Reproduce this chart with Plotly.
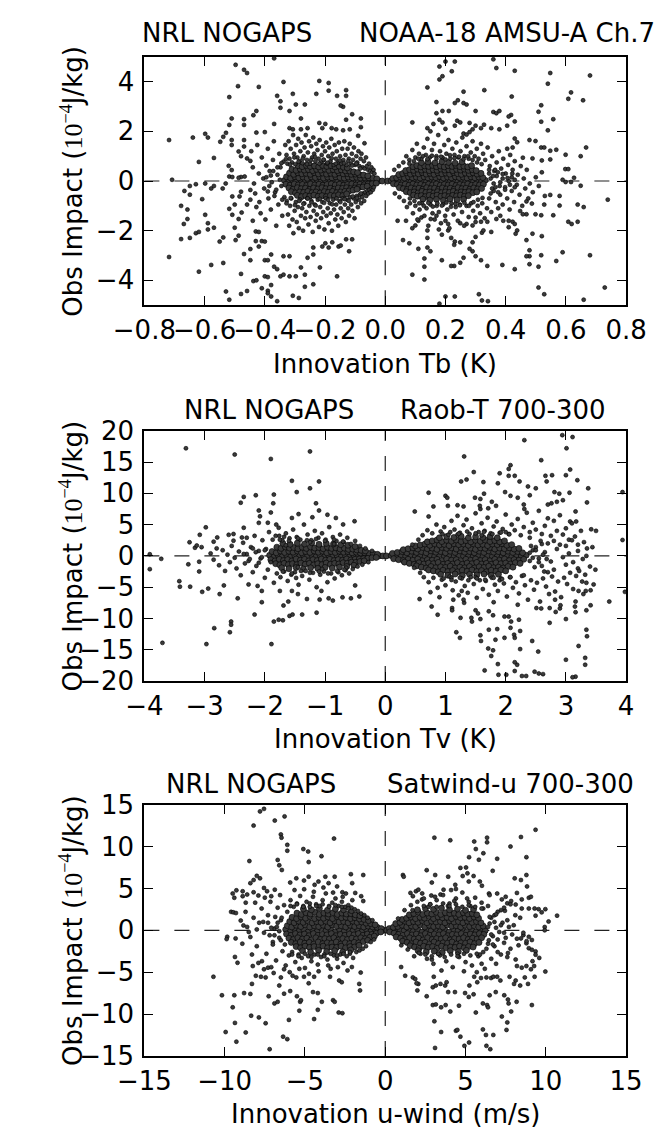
import plotly.graph_objects as go

FIG_W, FIG_H = 672, 1141
FONT = "DejaVu Sans"

# ---------------- NOAA-18 AMSU-A Ch.7 : (innovation Tb [K], impact [1e-4 J/kg]) ----------------
tb_sparse = [
    (-.718,1.65),(-.708,.05),(-.718,-3.06),(-.639,1.75),(-.598,1.9),(-.589,1.75),(-.619,.77),(-.569,.93),
    (-.678,-1.0),(-.657,-1.15),(-.667,-.4),(-.649,-.2),(-.649,-.55),(-.669,-1.73),(-.657,-1.53),(-.678,-2.34),
    (-.649,-2.29),(-.629,-2.1),(-.619,-2.05),(-.598,-1.36),(-.589,-1.7),(-.589,-1.95),(-.569,-1.88),(-.578,-3.38),
    (-.619,-3.65),(-.608,-.73),(-.629,-.13),(-.598,-.1),(-.578,-.3),(-.569,-.2),(-.55,-2.44),(-.538,-2.27),
    (-.538,-3.3),(-.548,1.58),(-.538,1.78),(-.529,1.94),(-.518,2.26),(-.51,2.52),(-.518,3.38),(-.497,4.68),
    (-.489,3.82),(-.469,4.48),(-.459,4.35),(-.51,1.65),(-.51,1.45),(-.52,.61),(-.51,.44),(-.53,-.1),(-.54,-.3),
    (-.518,.18),(-.508,.16),(-.508,-.62),(-.5,-.95),(-.518,-1.12),(-.508,-1.36),(-.487,-1.53),(-.477,-1.27),
    (-.5,-1.88),(-.487,-2.2),(-.497,-2.38),(-.529,-4.45),(-.518,-4.78),(-.479,-4.55),(-.459,-4.43),(-.479,-3.74),
    (-.469,-2.94),(-.448,-2.74),(-.448,-3.19),(-.469,2.49),(-.469,2.26),(-.438,2.65),(-.428,2.82),(-.42,3.79),
    (-.428,1.95),(-.487,1.19),(-.479,1.0),(-.469,1.65),(-.469,1.39),(-.459,.91),(-.448,.81),(-.479,.16),
    (-.487,.13),(-.467,.18),(-.479,-.43),(-.484,-.62),(-.448,-.36),(-.448,-.75),(-.459,-.95),(-.44,-1.6),
    (-.43,-2.03),(-.42,-2.05),(-.43,-2.42),(-.42,-2.64),(-.41,-2.42),(-.4,-2.44),(-.438,-4.03),(-.428,-4.0),
    (-.41,-4.32),(-.39,-4.42),(-.39,-4.52),(-.379,-4.65),(-.359,-4.84),(-.379,-4.19),(-.4,-3.84),(-.39,-3.87),
    (-.4,-3.19),(-.39,-3.19),(-.379,-2.96),(-.369,-3.45),(-.359,-3.55),(-.348,-3.84),(-.338,-3.77),(-.318,-3.84),
    (-.297,-3.84),(-.307,-4.62),(-.287,-4.71),(-.338,-3.03),(-.318,-3.03),(-.28,-3.48),(-.267,-3.77),(-.267,-4.26),
    (-.239,-4.16),(-.239,-2.96),(-.239,-2.68),(-.258,-3.09),(-.217,-3.48),(-.209,-2.64),(-.199,-2.51),(-.188,-2.68),
    (-.176,-2.47),(-.16,-3.84),(-.155,-2.64),(-.148,-2.6),(-.12,-2.83),(-.13,-2.35),(-.11,-2.35),(-.369,4.94),
    (-.338,3.99),(-.359,3.43),(-.348,3.21),(-.348,2.95),(-.318,2.82),(-.307,3.51),(-.297,3.08),(-.267,3.08),
    (-.318,2.13),(-.307,2.08),(-.28,2.52),(-.28,2.08),(-.258,2.13),(-.229,3.51),(-.219,4.03),(-.188,3.95),
    (-.188,3.64),(-.16,3.43),(-.13,3.66),(-.13,3.43),(-.14,2.99),(-.148,3.04),(-.11,2.69),(-.13,2.47),
    (-.081,2.52),(-.081,2.17),(-.219,2.34),(-.199,2.3),(-.209,2.13),(-.178,2.13),(-.163,2.08),(-.14,2.04),
    (-.118,2.08),(-.09,1.82),(-.069,1.52),(-.369,2.3),(-.4,1.97),
    (.18,4.61),(.2,4.81),(.231,4.81),(.359,4.9),(.18,4.09),(.19,4.22),(.221,4.42),(.369,4.55),(.43,4.44),
    (.548,4.35),(.68,4.25),(.14,3.77),(.26,3.6),(.329,3.66),(.54,3.92),(.518,3.05),(.617,3.57),(.608,3.31),
    (.657,3.25),(.42,3.4),(.17,3.18),(.231,3.14),(.241,3.25),(.26,3.14),(.27,3.08),(.19,2.82),(.211,2.82),
    (.17,2.73),(.3,2.82),(.359,2.78),(.369,2.73),(.379,2.82),(.418,2.66),(.41,2.6),(.43,2.4),(.509,2.79),
    (.518,2.39),(.558,2.49),(.54,2.04),(.09,2.36),(.18,2.47),(.19,2.36),(.239,2.43),(.249,2.36),(.28,2.34),
    (.3,2.23),(.328,2.27),(.379,2.08),(.405,2.23),(.14,2.13),(.15,2.0),(.16,2.3),(.2,2.1),(.231,2.23),
    (.26,1.91),(.27,1.87),(.28,1.97),(.29,2.08),(.318,2.13),(.352,2.13),(.43,1.71),(.438,1.56),(.423,1.35),
    (.405,1.3),(.479,1.65),(.499,1.61),(.518,1.35),(.528,1.35),(.548,1.22),(.568,1.26),(.599,1.06),(.649,1.0),
    (.667,1.35),(.457,.94),(.489,.91),(.52,.83),(.548,.87),(.598,.48),(.608,.48),(.627,.13),(.589,.05),
    (.599,-.04),(.617,-.04),(.649,-.19),(.739,-.75),(.639,-.95),(.659,-1.05),(.608,-1.64),(.619,-1.73),
    (.639,-1.64),(.579,-.6),(.548,-.56),(.528,-.95),(.579,-.99),(.558,-1.38),(.518,-1.38),(.499,-1.34),
    (.487,-.91),(.469,-.82),(.469,-1.34),(.448,-1.21),(.457,-1.34),(.469,-2.38),(.489,-2.12),(.52,-2.22),
    (.479,-2.79),(.479,-3.03),(.469,-3.03),(.518,-2.99),(.589,-2.87),(.568,-3.22),(.479,-3.35),(.509,-3.45),
    (.43,-3.55),(.68,-2.99),(.509,-4.29),(.528,-4.56),(.729,-4.29),(.659,-4.78),(.41,-1.6),(.423,-1.64),
    (.43,-1.73),(.438,-1.99),(.433,-2.12),(.41,-1.86),(.392,-1.6),(.382,-1.4),(.369,-1.53),(.389,-3.38),
    (.339,-3.42),(.318,-3.19),(.3,-3.03),(.29,-2.83),(.28,-2.73),(.26,-3.09),(.249,-3.29),(.229,-3.42),
    (.219,-3.42),(.188,-3.19),(.13,-3.12),(.13,-3.45),(.13,-3.97),(.09,-3.77),(.2,-4.65),(.231,-4.65),
    (.311,-4.56),(.321,-4.81),(.341,-4.84),(.18,-4.94),(.059,-2.38),(.08,-2.51),(.11,-2.73),(.14,-2.68),
    (.15,-2.83),(.178,-1.95),(.188,-2.16),(.209,-1.99),(.219,-2.29),(.231,-2.44),(.249,-2.47),(.229,-2.57),
    (.14,-1.99),(.14,-2.29),(.29,-2.47),(.3,-2.25),(.321,-2.08),(.326,-1.99),(.249,-1.7),(.27,-1.73),
    (.29,-1.79),(.3,-1.47),(.318,-1.64),(.339,-1.64),(.352,-2.05),(.2,-1.6),(.209,-1.73),(.041,-1.6),
    (.069,-1.6),(.1,-1.79),(.09,-1.9),(.11,-1.6),(.12,-1.47),(.151,-1.53),(.17,-1.4),
]
tb_band = [
    (-.445,1.2),(-.44,.55),(-.436,-.1),(-.432,-.5),(-.428,-1.05),(-.425,1.45),(-.42,.3),(-.418,-.85),(-.414,-1.3),
    (-.41,.95),(-.405,.1),(-.402,-.3),(-.398,-1.55),(-.395,.62),(-.39,1.3),(-.388,-.7),(-.384,.4),(-.38,-1.15),
    (-.377,-.05),(-.373,.85),(-.37,1.6),(-.366,-.45),(-.362,-1.8),(-.358,.25),(-.355,-.95),(-.352,1.1),(-.348,.55),
    (-.345,-.2),(-.342,-1.4),(-.338,.78),(-.335,-.65),(-.332,1.45),
    (-.328,1.05),(-.325,.7),(-.321,1.6),(-.318,.9),(-.314,1.3),(-.31,.75),(-.306,1.85),(-.303,1.1),(-.299,.68),
    (-.296,1.45),(-.292,.95),(-.289,1.7),(-.285,.8),(-.282,1.2),(-.278,1.55),(-.275,.72),(-.271,1.0),(-.268,1.35),
    (-.264,1.85),(-.26,.85),(-.257,1.15),(-.253,1.6),(-.25,.7),(-.246,1.4),(-.243,.95),(-.239,1.75),(-.236,1.1),
    (-.232,.8),(-.229,1.5),(-.225,1.25),(-.221,.9),(-.218,1.65),(-.214,.75),(-.211,1.05),(-.207,1.4),(-.204,.85),
    (-.2,1.2),(-.196,1.55),(-.193,.7),(-.189,1.0),(-.186,1.35),(-.182,.8),(-.179,1.7),(-.175,1.1),(-.171,.65),
    (-.168,1.45),(-.164,.9),(-.161,1.2),(-.157,.75),(-.154,1.55),(-.15,1.0),(-.146,.7),(-.143,1.3),(-.139,.85),
    (-.136,1.6),(-.132,1.05),(-.129,.65),(-.125,1.3),(-.121,.9),(-.118,1.5),(-.114,.7),(-.111,1.1),(-.107,.85),
    (-.104,1.35),(-.1,.65),(-.096,1.0),(-.093,.75),(-.089,1.2),(-.086,.6),(-.082,.9),(-.079,1.1),(-.075,.55),
    (-.071,.8),(-.068,.5),(-.064,.95),(-.061,.6),(-.057,.45),(-.054,.7),(-.05,.4),(-.046,.55),(-.043,.35),
    (-.039,.45),(-.036,.3),
    (-.327,-.8),(-.323,-1.35),(-.319,-1.8),(-.316,-1.0),(-.312,-.7),(-.308,-1.55),(-.305,-2.1),(-.301,-1.2),
    (-.297,-.85),(-.294,-1.65),(-.29,-1.05),(-.287,-1.9),(-.283,-.75),(-.28,-1.4),(-.276,-1.1),(-.273,-2.0),
    (-.269,-.9),(-.266,-1.5),(-.262,-1.25),(-.259,-.7),(-.255,-1.75),(-.252,-1.0),(-.248,-1.45),(-.245,-.8),
    (-.241,-2.05),(-.238,-1.2),(-.234,-.95),(-.231,-1.6),(-.227,-1.35),(-.224,-.75),(-.22,-1.85),(-.216,-1.05),
    (-.213,-1.5),(-.209,-.85),(-.206,-1.25),(-.202,-1.95),(-.198,-.7),(-.195,-1.4),(-.191,-1.1),(-.188,-1.7),
    (-.184,-.9),(-.181,-1.3),(-.177,-2.0),(-.173,-.75),(-.17,-1.15),(-.166,-1.55),(-.163,-.95),(-.159,-1.35),
    (-.156,-1.8),(-.152,-.8),(-.148,-1.1),(-.145,-1.5),(-.141,-.7),(-.138,-1.25),(-.134,-.95),(-.131,-1.65),
    (-.127,-.75),(-.123,-1.1),(-.12,-1.4),(-.116,-.65),(-.113,-.95),(-.109,-1.2),(-.105,-.7),(-.102,-1.5),
    (-.098,-.85),(-.095,-.6),(-.091,-1.05),(-.088,-.75),(-.084,-.55),(-.08,-.9),(-.077,-.65),(-.073,-.5),
    (-.07,-.8),(-.066,-.45),(-.063,-.6),(-.059,-.4),(-.056,-.5),(-.052,-.35),(-.048,-.45),(-.045,-.3),
    (-.041,-.35),(-.038,-.25),
    (-.345,.72),(-.33,.88),(-.316,.66),(-.302,.95),(-.288,.78),(-.274,.9),(-.26,.68),(-.247,.84),(-.233,.97),
    (-.219,.7),(-.205,.86),(-.192,.74),(-.178,.92),(-.164,.7),(-.151,.83),(-.137,.72),(-.123,.8),(-.11,.62),
    (-.096,.7),(-.083,.5),
    (-.342,-.75),(-.328,-.9),(-.314,-.68),(-.3,-.97),(-.286,-.8),(-.272,-.92),(-.258,-.7),(-.245,-.86),
    (-.231,-.99),(-.217,-.72),(-.203,-.88),(-.19,-.76),(-.176,-.94),(-.162,-.7),(-.149,-.85),(-.135,-.73),
    (-.121,-.8),(-.108,-.62),(-.094,-.68),(-.081,-.5),
    (-.395,.15),(-.385,-.2),(-.372,.4),(-.362,-.35),(-.35,.05),(-.358,.55),(-.368,-.6),(-.38,.22),(-.39,-.42),
    (.03,.45),(.045,.6),(.06,.75),(.07,1.0),(.08,.85),(.09,1.25),(.1,.95),(.105,1.5),(.112,1.1),(.12,.9),
    (.128,1.35),(.135,1.05),(.14,1.7),(.148,.95),(.155,1.25),(.162,1.5),(.17,1.0),(.176,1.85),(.182,1.2),
    (.19,.95),(.196,1.45),(.203,1.1),(.21,1.65),(.216,.9),(.223,1.3),(.23,1.05),(.236,1.55),(.243,.95),
    (.25,1.2),(.256,1.75),(.263,1.0),(.27,1.4),(.277,.9),(.284,1.15),(.29,1.6),(.297,1.0),(.304,1.3),(.31,.9),
    (.318,1.5),(.325,1.1),(.332,.85),(.34,1.35),(.347,.6),(.355,1.0),(.362,.4),(.37,.75),(.377,1.2),(.385,.5),
    (.392,.9),(.4,.3),(.408,.65),(.415,1.05),(.423,.45),(.43,.8),(.44,.25),(.45,.6),
    (.032,-.5),(.047,-.65),(.062,-.8),(.072,-1.05),(.082,-.9),(.092,-1.3),(.1,-1.0),(.107,-1.55),(.114,-1.15),
    (.122,-.9),(.13,-1.4),(.137,-1.1),(.143,-1.8),(.15,-.95),(.157,-1.3),(.164,-1.55),(.171,-1.0),(.178,-1.25),
    (.185,-1.7),(.192,-.95),(.199,-1.4),(.206,-1.15),(.213,-1.9),(.22,-.9),(.227,-1.35),(.234,-1.05),(.241,-1.6),
    (.248,-.95),(.255,-1.25),(.262,-1.8),(.27,-1.0),(.277,-1.45),(.285,-.9),(.292,-1.2),(.3,-1.65),(.307,-1.0),
    (.315,-1.3),(.322,-.9),(.33,-1.5),(.338,-1.1),(.345,-.7),(.352,-1.25),(.36,-.4),(.367,-.85),(.375,-1.1),
    (.382,-.55),(.39,-.95),(.398,-.25),(.405,-.7),(.413,-1.15),(.42,-.4),(.428,-.85),(.437,-.15),(.446,-.55),
    (.455,-1.0),(.465,-.3),(.475,-.7),(.49,-.45),(.5,.15),(.51,-.2),(.52,.35),(.53,-.6),(.46,.1),(.47,.45),
    (.48,-.1),(.35,.1),(.36,-.1),(.37,.2),(.38,-.2),(.39,.1),(.41,0),(.42,.15),(.43,-.25),(.345,.3),(.355,-.3),
    (.365,.45),(.375,-.45),
    (.11,.9),(.125,1.0),(.14,.88),(.155,1.02),(.17,.9),(.185,.98),(.2,.87),(.215,1.04),(.23,.92),(.245,.98),
    (.26,.88),(.275,1.0),(.29,.85),(.305,.75),(.32,.68),(.08,.7),(.095,.8),
    (.113,-.9),(.128,-1.0),(.143,-.88),(.158,-1.03),(.173,-.9),(.188,-.99),(.203,-.87),(.218,-1.04),(.233,-.92),
    (.248,-.98),(.263,-.88),(.278,-1.0),(.293,-.85),(.308,-.75),(.323,-.68),(.082,-.7),(.097,-.8),
    (.345,.45),(.35,-.5),(.358,.2),(.366,-.25),(.374,.35),(.382,-.05),(.39,.28),(.398,-.35),(.406,.12),
    (.414,-.15),(.422,.3),(.43,.05),
]
tb_core = [
    (-.335,.02),(-.322,-.05),(-.308,.04),(-.295,-.02),(-.281,.06),(-.267,-.04),(-.254,.01),(-.24,-.06),(-.226,.05),
    (-.213,-.01),(-.199,.03),(-.185,-.05),(-.172,.04),(-.158,-.02),(-.144,.02),(-.131,-.04),(-.117,.03),
    (-.103,-.02),(-.09,.01),(-.076,-.03),(-.062,.02),(-.049,-.01),(-.035,.01),(-.021,0),(-.01,0),
    (-.328,.17),(-.314,.12),(-.3,.18),(-.287,.13),(-.273,.16),(-.259,.11),(-.246,.17),(-.232,.14),(-.218,.18),
    (-.205,.12),(-.191,.16),(-.177,.13),(-.164,.17),(-.15,.14),(-.136,.12),(-.123,.16),(-.109,.13),(-.095,.15),
    (-.082,.12),(-.068,.14),(-.055,.13),(-.041,.11),(-.028,.09),
    (-.33,-.13),(-.316,-.17),(-.302,-.12),(-.289,-.16),(-.275,-.14),(-.261,-.18),(-.248,-.12),(-.234,-.16),
    (-.22,-.13),(-.207,-.17),(-.193,-.14),(-.179,-.12),(-.166,-.16),(-.152,-.13),(-.138,-.17),(-.125,-.14),
    (-.111,-.12),(-.097,-.16),(-.084,-.13),(-.07,-.15),(-.057,-.12),(-.043,-.11),(-.03,-.09),
    (-.318,.32),(-.304,.27),(-.29,.33),(-.277,.29),(-.263,.31),(-.249,.27),(-.236,.34),(-.222,.29),(-.208,.32),
    (-.195,.28),(-.181,.31),(-.167,.27),(-.154,.33),(-.14,.29),(-.126,.3),(-.113,.27),(-.099,.28),(-.085,.25),
    (-.072,.24),(-.058,.21),
    (-.32,-.28),(-.306,-.33),(-.292,-.27),(-.279,-.31),(-.265,-.29),(-.251,-.34),(-.238,-.28),(-.224,-.32),
    (-.21,-.27),(-.197,-.31),(-.183,-.29),(-.169,-.33),(-.156,-.28),(-.142,-.3),(-.128,-.27),(-.115,-.31),
    (-.101,-.28),(-.087,-.26),(-.074,-.24),(-.06,-.21),
    (-.31,.47),(-.296,.43),(-.282,.48),(-.269,.44),(-.255,.46),(-.241,.42),(-.228,.47),(-.214,.44),(-.2,.48),
    (-.187,.43),(-.173,.46),(-.159,.42),(-.146,.45),(-.132,.41),(-.118,.4),(-.105,.37),(-.092,.34),
    (-.312,-.43),(-.298,-.48),(-.284,-.44),(-.271,-.46),(-.257,-.42),(-.243,-.47),(-.23,-.44),(-.216,-.48),
    (-.202,-.43),(-.189,-.46),(-.175,-.42),(-.161,-.47),(-.148,-.44),(-.134,-.42),(-.12,-.4),(-.107,-.37),
    (-.094,-.33),
    (-.29,.62),(-.276,.58),(-.262,.63),(-.249,.59),(-.235,.61),(-.221,.57),(-.208,.63),(-.194,.59),(-.18,.62),
    (-.167,.57),(-.153,.6),(-.139,.56),(-.126,.53),
    (-.292,-.58),(-.278,-.63),(-.264,-.59),(-.251,-.61),(-.237,-.57),(-.223,-.62),(-.21,-.59),(-.196,-.63),
    (-.182,-.58),(-.169,-.6),(-.155,-.56),(-.141,-.59),(-.128,-.52),
    (.008,0),(.02,.01),(.033,-.02),(.046,.03),(.059,-.01),(.072,.02),(.085,-.04),(.098,.03),(.111,-.02),
    (.124,.04),(.137,-.03),(.15,.01),(.163,-.05),(.176,.03),(.189,-.01),(.202,.05),(.215,-.03),(.228,.02),
    (.241,-.04),(.254,.03),(.267,-.02),(.28,.04),(.293,-.03),(.306,.01),(.319,-.04),(.332,.03),
    (.025,.1),(.038,.13),(.051,.16),(.064,.12),(.077,.17),(.09,.14),(.103,.16),(.116,.12),(.129,.17),(.142,.13),
    (.155,.16),(.168,.14),(.181,.18),(.194,.12),(.207,.16),(.22,.13),(.233,.17),(.246,.14),(.259,.16),
    (.272,.12),(.285,.17),(.298,.13),(.311,.16),(.324,.14),
    (.027,-.11),(.04,-.14),(.053,-.16),(.066,-.13),(.079,-.17),(.092,-.12),(.105,-.16),(.118,-.14),(.131,-.18),
    (.144,-.13),(.157,-.16),(.17,-.12),(.183,-.17),(.196,-.14),(.209,-.16),(.222,-.13),(.235,-.18),(.248,-.14),
    (.261,-.16),(.274,-.12),(.287,-.17),(.3,-.14),(.313,-.16),(.326,-.13),
    (.045,.26),(.058,.3),(.071,.33),(.084,.28),(.097,.32),(.11,.29),(.123,.34),(.136,.28),(.149,.31),(.162,.27),
    (.175,.33),(.188,.29),(.201,.32),(.214,.28),(.227,.34),(.24,.3),(.253,.27),(.266,.32),(.279,.29),(.292,.33),
    (.305,.28),(.318,.31),
    (.047,-.27),(.06,-.31),(.073,-.34),(.086,-.28),(.099,-.32),(.112,-.29),(.125,-.33),(.138,-.27),(.151,-.31),
    (.164,-.29),(.177,-.34),(.19,-.28),(.203,-.32),(.216,-.29),(.229,-.33),(.242,-.27),(.255,-.31),(.268,-.29),
    (.281,-.33),(.294,-.28),(.307,-.32),(.32,-.3),
    (.068,.42),(.081,.46),(.094,.43),(.107,.48),(.12,.44),(.133,.47),(.146,.42),(.159,.46),(.172,.43),(.185,.48),
    (.198,.44),(.211,.46),(.224,.42),(.237,.47),(.25,.44),(.263,.48),(.276,.43),(.289,.46),(.302,.42),
    (.07,-.43),(.083,-.47),(.096,-.44),(.109,-.48),(.122,-.42),(.135,-.46),(.148,-.44),(.161,-.48),(.174,-.43),
    (.187,-.47),(.2,-.44),(.213,-.46),(.226,-.42),(.239,-.48),(.252,-.44),(.265,-.46),(.278,-.43),(.291,-.47),
    (.304,-.44),
    (.092,.58),(.105,.62),(.118,.57),(.131,.61),(.144,.59),(.157,.63),(.17,.58),(.183,.61),(.196,.57),(.209,.62),
    (.222,.59),(.235,.63),(.248,.58),(.261,.6),(.274,.57),(.287,.62),
    (.094,-.57),(.107,-.61),(.12,-.59),(.133,-.63),(.146,-.58),(.159,-.61),(.172,-.57),(.185,-.62),(.198,-.59),
    (.211,-.63),(.224,-.58),(.237,-.6),(.25,-.57),(.263,-.62),(.276,-.59),
    (.12,.74),(.142,.77),(.165,.73),(.188,.78),(.21,.75),(.232,.72),(.255,.77),
    (.125,-.73),(.148,-.77),(.17,-.74),(.193,-.78),(.215,-.72),(.238,-.76),(.26,-.74),
]

# ---------------- Raob-T 700-300 : (innovation Tv [K], impact [1e-4 J/kg]) ----------------
tv_sparse = [
    (-3.91,.26),(-3.91,-2.12),(-3.7,-13.9),(-3.72,-.47),(-3.31,17.2),(-3.42,-4.04),(-3.41,-4.92),(-3.24,-4.92),
    (-3.25,2.18),(-3.27,-1.35),(-3.16,1.3),(-3.13,1.66),(-3.08,3.37),(-3.05,1.4),(-3.09,-2.49),(-3.09,-.93),
    (-3.04,-5.75),(-2.98,4.56),(-2.94,-5.23),(-2.97,-14.1),(-2.85,2.28),(-2.79,2.95),(-2.84,-11.55),(-2.75,-6.11),
    (-2.68,-4.72),(-2.58,-12.2),(-2.56,-10.5),(-2.56,-11.0),(-2.6,3.37),(-2.52,2.44),(-2.5,16.2),(-2.45,-6.79),
    (-2.4,8.5),(-2.35,9.43),(-2.38,2.95),(-2.35,4.5),(-2.27,-4.56),(-2.17,-9.38),(-2.15,9.69),(-2.1,7.25),
    (-2.08,6.32),(-2.1,5.28),(-2.05,-5.6),(-2.05,-7.4),(-1.9,15.5),(-1.9,6.94),(-1.86,8.4),(-1.85,9.8),
    (-1.89,-14.1),(-1.85,-10.5),(-1.77,-10.2),(-1.7,-10.3),(-1.81,5.0),(-1.76,3.2),(-1.68,3.05),(-1.55,12.0),
    (-1.47,10.2),(-1.25,10.8),(-1.25,16.7),(-1.1,11.9),(-1.55,6.06),(-1.44,6.68),(-1.21,6.17),(-1.15,8.4),
    (-1.1,7.25),(-1.59,-9.59),(-1.54,-9.38),(-1.38,-9.38),(-1.14,-9.07),(-1.69,-7.93),(-1.61,-7.3),(-1.45,-6.11),
    (-1.3,-6.89),(-1.09,-6.99),(-1.06,-5.6),(-.94,-6.79),(-.87,-7.15),(-.96,6.58),(-.82,6.06),(-.7,5.03),
    (-.51,5.54),(-.71,-6.63),(-.57,-6.79),(-.43,-6.48),(-.5,-4.72),(-1.55,-5.6),(-1.48,-3.52),
    (2.31,18.5),(2.94,19.3),(3.11,19.0),(3.01,17.2),(1.31,15.9),(2.59,15.3),(2.08,14.5),(2.05,13.9),(2.15,12.8),
    (2.05,12.8),(1.47,13.4),(1.26,11.9),(1.35,12.2),(1.63,11.8),(1.9,13.2),(1.87,11.6),(2.23,11.9),(2.37,11.1),
    (2.66,12.8),(2.77,12.9),(2.68,11.9),(3.0,12.9),(3.07,13.8),(3.19,12.1),(.72,10.1),(1.0,9.6),(1.03,9.3),
    (1.49,9.3),(1.58,9.1),(1.64,9.95),(1.77,8.65),(1.99,10.2),(2.08,9.6),(2.2,9.3),(2.3,8.2),(2.31,7.5),
    (2.5,10.8),(2.4,9.7),(2.81,10.2),(2.89,9.95),(3.06,10.1),(3.37,10.8),(3.35,8.55),(2.95,8.9),(2.7,8.2),
    (2.76,8.4),(2.85,8.65),(.49,7.1),(.72,6.3),(.8,7.9),(1.04,8.0),(1.2,8.1),(1.3,7.9),(1.58,7.5),(1.71,7.6),
    (1.84,8.0),(1.57,8.0),(3.16,7.1),(3.17,5.5),(3.07,5.5),(3.42,4.25),(3.5,4.0),(3.44,1.4),(3.34,0),
    (3.94,10.2),(3.94,2.54),(3.98,-5.75),(3.72,-7.3),(3.49,-2.2),(3.4,-1.7),(3.46,-4.56),(3.41,-5.5),
    (3.34,-4.3),(3.33,-5.6),(3.29,-6.1),(3.34,-8.7),(3.41,-7.9),(3.16,-7.3),(3.16,-9.0),(3.15,-8.1),(3.21,-5.6),
    (3.34,-11.8),(3.35,-12.85),(3.21,-14.4),(3.32,-16.3),(3.32,-17.4),(3.0,-16.6),(3.0,-10.1),(2.73,-10.7),
    (2.83,-8.96),(3.16,-19.3),(3.11,-19.4),(2.34,-19.2),(2.48,-18.5),(2.55,-18.8),(2.62,-18.9),(2.27,-19.2),
    (2.15,-18.4),(2.01,-19.0),(1.88,-19.0),(1.87,-17.3),(2.19,-17.4),(2.15,-17.0),(1.65,-18.3),(2.24,-14.9),
    (2.44,-13.6),(2.54,-15.3),(1.76,-16.0),(1.71,-14.8),(1.79,-15.1),(1.83,-13.4),(1.58,-12.7),(1.59,-13.6),
    (1.72,-11.8),(1.86,-11.7),(1.98,-13.1),(2.14,-12.6),(2.15,-13.1),(2.09,-10.5),(2.22,-10.2),(1.18,-12.2),
    (1.24,-13.1),(1.11,-8.34),(1.11,-8.7),(.87,-9.4),(.77,-8.1),(.57,-6.9),(1.31,-7.5),(1.43,-9.9),(1.44,-10.5),
    (1.5,-8.7),(1.54,-9.2),(1.58,-10.1),(1.72,-8.86),(1.79,-9.5),(1.25,-9.9),(1.13,-7.0),(1.27,-5.6),(1.98,-9.7),
    (2.05,-9.7),(2.08,-11.5),(2.24,-12.0),(2.51,-8.34),(2.59,-8.4),(2.73,-8.34),(2.9,-8.4),(2.91,-7.9),(2.82,-7.0),
]
tv_band = [
    (-2.9,.4),(-2.85,-.6),(-2.8,1.2),(-2.76,-1.5),(-2.7,.9),(-2.66,-2.4),(-2.62,.2),(-2.58,-1.0),(-2.55,1.6),
    (-2.5,-.3),(-2.47,-2.0),(-2.43,.7),(-2.4,-3.1),(-2.36,2.1),(-2.33,-1.2),(-2.3,.3),(-2.27,-.8),(-2.23,1.4),
    (-2.2,-2.6),(-2.17,3.2),(-2.14,-1.6),(-2.1,.8),(-2.07,-.4),(-2.04,2.5),(-2.0,-3.5),(-1.98,1.1),(-1.95,-2.2),
    (-1.93,3.8),(-1.9,-1.0),(-1.87,2.6),(-1.85,-4.3),(-1.82,3.2),(-1.8,-2.8),(-1.77,4.5),(-1.74,-3.4),(-1.71,2.5),
    (-1.68,-2.5),(-1.65,3.6),(-1.62,-4.0),(-1.59,2.8),(-1.56,-3.0),(-1.53,4.2),(-1.5,-2.6),(-1.47,3.0),
    (-1.44,-4.6),(-1.41,2.6),(-1.38,-3.2),(-1.35,5.0),(-1.32,-2.4),(-1.29,3.4),(-1.26,-3.8),(-1.23,2.5),
    (-1.2,-2.7),(-1.17,4.0),(-1.14,-5.0),(-1.11,2.9),(-1.08,-3.0),(-1.05,3.6),(-1.02,-2.5),(-.99,2.6),
    (-.96,-4.2),(-.93,4.6),(-.9,-2.8),(-.87,3.0),(-.84,-3.6),(-.81,2.4),(-.78,-2.6),(-.75,3.4),(-.72,-3.1),
    (-.69,2.2),(-.66,-2.3),(-.63,2.9),(-.6,-2.8),(-.57,1.9),(-.54,-2.1),(-.5,2.4),(-.46,-1.7),(-.42,1.6),
    (-.38,-1.4),(-.33,1.2),(-.28,-1.0),(-.22,.8),(-1.65,1.7),(-1.45,-1.8),(-1.25,2.2),(-1.05,-2.1),(-.85,1.9),
    (-.65,-1.9),(-2.12,-4.8),(-2.3,2.9),(-2.52,3.5),(-1.95,5.3),(-1.75,-5.6),
    (-1.75,2.6),(-1.6,2.4),(-1.45,2.8),(-1.3,2.5),(-1.15,2.7),(-1.0,2.4),(-.85,2.6),(-.7,2.3),(-1.7,-2.5),
    (-1.55,-2.8),(-1.4,-2.4),(-1.25,-2.7),(-1.1,-2.5),(-.95,-2.8),(-.8,-2.4),(-.68,-2.2),
    (-2.35,.3),(-2.25,-.5),(-2.15,.6),(-2.05,-.2),(-2.0,.9),(-2.1,-1.1),(-2.2,1.2),
    (.45,1.8),(.55,2.6),(.62,3.3),(.7,4.1),(.78,3.6),(.85,5.0),(.92,3.9),(.98,4.6),(1.05,3.4),(1.1,5.6),
    (1.15,4.2),(1.2,6.4),(1.24,3.7),(1.3,4.9),(1.35,5.8),(1.4,3.5),(1.44,4.4),(1.5,6.8),(1.55,3.8),(1.6,5.2),
    (1.65,4.0),(1.7,6.1),(1.75,3.6),(1.8,4.7),(1.85,5.5),(1.9,3.7),(1.95,4.3),(2.0,6.6),(2.05,3.5),(2.1,5.0),
    (2.15,4.1),(2.2,5.9),(2.25,3.3),(2.3,4.6),(2.35,6.9),(2.4,3.8),(2.45,5.3),(2.5,4.2),(2.55,7.2),(2.6,3.5),
    (2.65,4.8),(2.7,6.0),(2.75,3.2),(2.8,5.6),(2.85,4.0),(2.9,6.5),(2.95,3.4),(3.0,4.4),(3.05,2.6),(3.1,5.2),
    (3.15,3.1),(3.2,1.8),(3.25,4.0),(3.3,2.2),(3.35,1.2),(1.2,3.4),(1.6,3.3),(2.0,3.8),(2.4,2.9),(2.8,2.4),
    (3.0,1.6),(2.6,1.9),(2.45,.9),(2.55,-.4),(2.65,.6),(2.75,-.9),(2.85,1.1),(2.95,-.2),(3.05,.4),(3.12,-1.0),
    (3.2,.8),(3.28,-.5),(2.4,-.8),(2.5,1.4),(2.6,-1.6),(2.7,2.0),(2.8,-2.2),(2.9,1.8),(3.0,-1.4),(3.1,2.5),
    (3.2,-2.0),
    (.48,-1.9),(.58,-2.7),(.64,-3.4),(.72,-4.2),(.8,-3.5),(.87,-5.1),(.94,-3.8),(1.0,-4.7),(1.07,-3.3),
    (1.12,-5.5),(1.17,-4.1),(1.22,-6.3),(1.27,-3.6),(1.32,-4.8),(1.37,-5.9),(1.42,-3.4),(1.47,-4.5),(1.52,-6.7),
    (1.57,-3.9),(1.62,-5.3),(1.67,-4.0),(1.72,-6.2),(1.77,-3.5),(1.82,-4.6),(1.87,-5.6),(1.92,-3.6),(1.97,-4.4),
    (2.02,-6.5),(2.07,-3.4),(2.12,-5.1),(2.17,-4.2),(2.22,-6.0),(2.27,-3.2),(2.32,-4.7),(2.37,-7.0),(2.42,-3.9),
    (2.47,-5.4),(2.52,-4.3),(2.57,-7.3),(2.62,-3.6),(2.67,-4.9),(2.72,-6.1),(2.77,-3.3),(2.82,-5.7),(2.87,-4.1),
    (2.92,-6.6),(2.97,-3.5),(3.02,-4.5),(3.07,-2.7),(3.12,-5.3),(3.17,-3.2),(3.22,-2.4),(3.27,-4.1),(3.32,-3.0),
    (1.1,-3.5),(1.5,-3.4),(1.9,-3.9),(2.3,-3.1),(2.7,-2.6),(1.3,-7.0),(1.8,-7.4),(2.2,-7.8),(.9,-6.6),(.75,-5.8),
    (.95,3.5),(1.08,3.8),(1.22,3.55),(1.36,3.9),(1.5,3.6),(1.64,3.85),(1.78,3.5),(1.92,3.75),(2.06,3.45),
    (.97,-3.6),(1.1,-3.85),(1.24,-3.5),(1.38,-3.9),(1.52,-3.6),(1.66,-3.8),(1.8,-3.5),(1.94,-3.7),(2.08,-3.4),
    (2.4,.5),(2.45,-.3),(2.5,.9),(2.55,-1.0),(2.62,.2),(2.68,-.5),(2.42,1.6),(2.48,-1.8),(2.58,2.4),(2.64,-2.5),
]
tv_core = [
    (-1.92,.1),(-1.85,-.2),(-1.78,.15),(-1.71,-.1),(-1.64,.2),(-1.57,-.15),(-1.5,.05),(-1.43,-.2),(-1.36,.15),
    (-1.29,-.05),(-1.22,.2),(-1.15,-.15),(-1.08,.1),(-1.01,-.2),(-.94,.15),(-.87,-.05),(-.8,.1),(-.73,-.15),
    (-.66,.05),(-.59,-.1),(-.52,.1),(-.45,-.05),(-.38,.05),(-.31,-.05),(-.24,.05),(-.17,0),(-.1,0),(-.04,0),
    (-1.88,.7),(-1.81,.5),(-1.74,.8),(-1.67,.55),(-1.6,.75),(-1.53,.6),(-1.46,.8),(-1.39,.5),(-1.32,.7),
    (-1.25,.55),(-1.18,.8),(-1.11,.6),(-1.04,.75),(-.97,.5),(-.9,.7),(-.83,.55),(-.76,.75),(-.69,.6),(-.62,.7),
    (-.55,.5),(-.48,.6),(-.41,.45),(-.34,.5),(-.27,.4),(-.2,.35),(-.13,.25),
    (-1.9,-.6),(-1.83,-.8),(-1.76,-.55),(-1.69,-.75),(-1.62,-.6),(-1.55,-.8),(-1.48,-.5),(-1.41,-.7),
    (-1.34,-.55),(-1.27,-.8),(-1.2,-.6),(-1.13,-.75),(-1.06,-.5),(-.99,-.7),(-.92,-.55),(-.85,-.75),(-.78,-.6),
    (-.71,-.7),(-.64,-.5),(-.57,-.65),(-.5,-.55),(-.43,-.5),(-.36,-.45),(-.29,-.4),(-.22,-.3),(-.15,-.25),
    (-1.8,1.4),(-1.73,1.2),(-1.66,1.45),(-1.59,1.25),(-1.52,1.35),(-1.45,1.15),(-1.38,1.4),(-1.31,1.2),
    (-1.24,1.45),(-1.17,1.25),(-1.1,1.35),(-1.03,1.15),(-.96,1.4),(-.89,1.2),(-.82,1.3),(-.75,1.1),(-.68,1.25),
    (-.61,1.05),(-.54,1.1),(-.47,.95),(-.4,.9),(-.33,.8),
    (-1.82,-1.25),(-1.75,-1.45),(-1.68,-1.2),(-1.61,-1.4),(-1.54,-1.25),(-1.47,-1.45),(-1.4,-1.15),(-1.33,-1.35),
    (-1.26,-1.2),(-1.19,-1.45),(-1.12,-1.25),(-1.05,-1.4),(-.98,-1.15),(-.91,-1.35),(-.84,-1.2),(-.77,-1.3),
    (-.7,-1.1),(-.63,-1.2),(-.56,-1.0),(-.49,-1.05),(-.42,-.9),(-.35,-.8),
    (-1.7,2.0),(-1.58,1.85),(-1.46,2.05),(-1.34,1.9),(-1.22,2.1),(-1.1,1.85),(-.98,2.0),(-.86,1.9),(-.74,1.8),
    (-.62,1.7),(-.5,1.5),
    (-1.72,-1.9),(-1.6,-2.05),(-1.48,-1.85),(-1.36,-2.1),(-1.24,-1.9),(-1.12,-2.0),(-1.0,-1.85),(-.88,-1.95),
    (-.76,-1.8),(-.64,-1.7),(-.52,-1.5),
    (.02,0),(.1,.05),(.18,-.1),(.26,.15),(.34,-.05),(.42,.2),(.5,-.15),(.58,.1),(.66,-.2),(.74,.15),(.82,-.1),
    (.9,.2),(.98,-.15),(1.06,.1),(1.14,-.2),(1.22,.15),(1.3,-.05),(1.38,.2),(1.46,-.15),(1.54,.1),(1.62,-.2),
    (1.7,.05),(1.78,-.1),(1.86,.2),(1.94,-.15),(2.02,.1),(2.1,-.2),(2.18,.15),(2.26,-.05),(2.34,.1),
    (.12,.4),(.2,.55),(.28,.7),(.36,.5),(.44,.75),(.52,.55),(.6,.7),(.68,.5),(.76,.8),(.84,.6),(.92,.7),(1.0,.5),
    (1.08,.75),(1.16,.55),(1.24,.8),(1.32,.6),(1.4,.7),(1.48,.5),(1.56,.75),(1.64,.55),(1.72,.8),(1.8,.6),
    (1.88,.7),(1.96,.5),(2.04,.75),(2.12,.55),(2.2,.7),(2.28,.5),
    (.14,-.45),(.22,-.6),(.3,-.75),(.38,-.55),(.46,-.7),(.54,-.5),(.62,-.8),(.7,-.6),(.78,-.7),(.86,-.55),
    (.94,-.75),(1.02,-.5),(1.1,-.7),(1.18,-.6),(1.26,-.8),(1.34,-.55),(1.42,-.7),(1.5,-.5),(1.58,-.75),
    (1.66,-.6),(1.74,-.8),(1.82,-.55),(1.9,-.7),(1.98,-.5),(2.06,-.75),(2.14,-.6),(2.22,-.7),(2.3,-.55),
    (.3,1.0),(.38,1.15),(.46,1.3),(.54,1.1),(.62,1.35),(.7,1.15),(.78,1.25),(.86,1.05),(.94,1.35),(1.02,1.2),
    (1.1,1.3),(1.18,1.1),(1.26,1.35),(1.34,1.15),(1.42,1.25),(1.5,1.05),(1.58,1.3),(1.66,1.2),(1.74,1.35),
    (1.82,1.1),(1.9,1.25),(1.98,1.15),(2.06,1.3),(2.14,1.1),(2.22,1.2),
    (.32,-1.0),(.4,-1.2),(.48,-1.35),(.56,-1.1),(.64,-1.3),(.72,-1.15),(.8,-1.25),(.88,-1.05),(.96,-1.35),
    (1.04,-1.2),(1.12,-1.3),(1.2,-1.1),(1.28,-1.35),(1.36,-1.15),(1.44,-1.25),(1.52,-1.05),(1.6,-1.3),
    (1.68,-1.2),(1.76,-1.35),(1.84,-1.1),(1.92,-1.25),(2.0,-1.15),(2.08,-1.3),(2.16,-1.1),(2.24,-1.2),
    (.5,1.6),(.58,1.75),(.66,1.9),(.74,1.7),(.82,1.95),(.9,1.75),(.98,1.85),(1.06,1.65),(1.14,1.95),(1.22,1.8),
    (1.3,1.9),(1.38,1.7),(1.46,1.95),(1.54,1.75),(1.62,1.85),(1.7,1.65),(1.78,1.9),(1.86,1.8),(1.94,1.95),
    (2.02,1.7),(2.1,1.8),
    (.52,-1.6),(.6,-1.8),(.68,-1.95),(.76,-1.7),(.84,-1.9),(.92,-1.75),(1.0,-1.85),(1.08,-1.65),(1.16,-1.95),
    (1.24,-1.8),(1.32,-1.9),(1.4,-1.7),(1.48,-1.95),(1.56,-1.75),(1.64,-1.85),(1.72,-1.65),(1.8,-1.9),
    (1.88,-1.8),(1.96,-1.95),(2.04,-1.7),(2.12,-1.8),
    (.7,2.25),(.78,2.4),(.86,2.55),(.94,2.3),(1.02,2.5),(1.1,2.35),(1.18,2.55),(1.26,2.3),(1.34,2.45),
    (1.42,2.25),(1.5,2.5),(1.58,2.35),(1.66,2.55),(1.74,2.3),(1.82,2.45),(1.9,2.25),(1.98,2.4),
    (.72,-2.25),(.8,-2.4),(.88,-2.55),(.96,-2.3),(1.04,-2.5),(1.12,-2.35),(1.2,-2.55),(1.28,-2.3),(1.36,-2.45),
    (1.44,-2.25),(1.52,-2.5),(1.6,-2.35),(1.68,-2.55),(1.76,-2.3),(1.84,-2.45),(1.92,-2.25),(2.0,-2.4),
    (.9,2.9),(1.02,3.1),(1.14,2.95),(1.26,3.15),(1.38,2.9),(1.5,3.05),(1.62,2.95),(1.74,3.1),(1.86,2.9),
    (.92,-2.95),(1.04,-3.1),(1.16,-2.9),(1.28,-3.15),(1.4,-2.95),(1.52,-3.05),(1.64,-2.9),(1.76,-3.1),(1.88,-2.95),
]

# ---------------- Satwind-u 700-300 : (innovation u-wind [m/s], impact [1e-4 J/kg]) ----------------
uw_sparse = [
    (-10.7,-5.55),(-10.17,-7.76),(-9.94,-12.15),(-9.27,-13.3),(-9.5,-9.2),(-9.36,-11.06),(-8.69,-12.2),
    (-8.35,-10.2),(-7.87,-10.4),(-7.45,-11.1),(-9.4,-7.76),(-8.79,-7.5),(-8.4,-7.6),(-8.3,-6.4),(-9.5,4.39),
    (-9.27,4.77),(-9.4,3.88),(-9.6,2.2),(-9.46,2.14),(-9.3,2.06),(-9.84,-.78),(-9.88,-1.05),(-9.32,-.97),
    (-9.36,-3.18),(-9.2,-3.88),(-9.0,1.16),(-8.83,.58),(-8.88,4.07),(-8.69,3.3),(-8.46,8.27),(-8.2,12.5),
    (-7.8,14.2),(-7.55,14.5),(-6.88,13.1),(-6.27,13.6),(-6.5,11.45),(-6.46,11.06),(-6.1,10.2),(-6.1,9.5),
    (-6.7,8.4),(-6.6,7.76),(-6.44,7.2),(-5.1,9.7),(-4.8,9.4),(-4.77,8.15),(-3.97,8.85),(-3.19,10.95),
    (-8.4,5.63),(-8.2,6.0),(-8.0,6.5),(-7.8,6.2),(-8.88,4.66),(-8.6,4.27),(-8.2,4.54),(-7.9,4.15),(-7.55,5.05),
    (-7.36,4.66),(-7.1,4.07),(-6.88,4.85),(-5.92,5.7),(-5.54,6.2),(-5.06,5.94),(-4.77,6.4),(-4.4,5.43),
    (-4.16,5.82),(-3.73,6.4),(-3.53,5.63),(-3.15,6.4),(-2.14,6.7),(-2.06,5.63),(-1.37,6.6),(-3.0,5.24),
    (-2.67,4.54),(-2.45,4.39),(-1.87,4.46),(-1.5,4.07),(-1.37,3.49),(-8.25,-4.27),(-8.06,-5.43),(-7.74,-5.55),
    (-7.45,-5.63),(-7.68,-3.69),(-7.55,-4.66),(-7.3,-4.46),(-7.26,-7.88),(-6.9,-8.73),(-6.7,-8.54),(-6.6,-6.6),
    (-6.3,-7.57),(-5.92,-7.26),(-5.5,-7.88),(-5.3,-8.54),(-6.0,-10.7),(-6.36,-12.7),(-6.1,-13.0),(-7.2,-14.2),
    (-5.35,-9.6),(-4.43,-10.6),(-4.2,-9.5),(-3.95,-8.54),(-4.5,-7.38),(-4.2,-7.5),(-4.77,-6.33),(-4.43,-5.55),
    (-3.25,-8.35),(-3.15,-8.54),(-2.9,-9.82),(-2.67,-9.9),(-3.44,-5.55),(-2.87,-6.0),(-2.71,-6.2),(-1.53,-5.05),
    (-1.62,-6.4),(-1.57,-7.18),(-2.08,-4.39),(-5.77,-5.43),(-5.54,-5.63),(-5.06,-5.55),(-5.25,-8.35),(-6.3,-4.66),
    (-6.5,-5.63),
    (3.06,11.06),(4.05,10.75),(5.54,10.6),(6.34,11.06),(6.34,10.5),(5.64,9.7),(6.11,9.2),(5.83,8.42),(5.22,8.73),
    (6.97,8.54),(7.8,10.0),(8.45,11.14),(9.36,12.0),(8.79,8.73),(6.69,7.1),(4.68,7.45),(5.03,7.5),(2.58,7.18),
    (1.1,6.6),(1.15,6.4),(3.11,6.6),(2.9,5.7),(3.92,6.4),(4.82,6.48),(5.12,6.8),(5.5,6.48),(5.2,5.82),(8.06,6.2),
    (8.45,6.0),(8.79,6.6),(8.83,5.24),(8.2,4.46),(8.5,3.69),(8.94,3.88),(9.07,4.0),(8.94,2.6),(9.3,2.6),
    (9.55,2.52),(9.97,2.52),(10.7,1.75),(10.17,1.05),(9.74,2.14),(9.36,1.75),(9.93,.39),(9.93,0),(8.12,3.07),
    (7.84,3.49),(7.6,3.22),(7.45,2.33),(5.89,5.82),(6.02,5.32),(6.46,4.39),(6.97,4.39),(7.26,3.69),(4.36,5.43),
    (4.4,4.93),(3.63,4.85),(3.44,4.27),(1.57,4.46),(1.91,4.66),(2.06,4.85),(2.87,4.15),(1.72,4.07),(2.29,3.69),
    (.99,-4.39),(1.24,-5.43),(1.72,-5.63),(1.87,-5.82),(2.06,-6.4),(2.58,-7.88),(2.96,-6.8),(3.02,-5.55),
    (3.15,-6.6),(3.44,-6.4),(3.73,-6.6),(3.82,-6.2),(3.92,-7.38),(4.34,-7.38),(2.96,-8.93),(3.15,-8.85),
    (3.48,-9.2),(3.76,-8.93),(4.05,-9.7),(3.06,-10.87),(3.48,-12.15),(4.4,-12.0),(4.49,-11.9),(4.68,-12.7),
    (3.1,-14.05),(4.93,-13.8),(5.22,-13.4),(4.59,-9.0),(4.97,-7.5),(5.24,-6.6),(5.5,-7.65),(5.64,-9.82),
    (5.2,-7.96),(5.54,-5.55),(5.73,-6.2),(6.08,-8.73),(6.34,-8.93),(6.4,-9.2),(6.08,-11.84),(6.27,-12.5),
    (6.73,-12.5),(6.3,-13.8),(6.54,-14.2),(5.96,-5.7),(6.3,-5.63),(6.59,-5.7),(6.73,-5.55),(6.97,-5.55),
    (7.17,-6.0),(6.88,-7.38),(6.5,-7.76),(7.41,-7.76),(7.68,-8.73),(7.64,-8.27),(7.26,-10.3),(7.6,-11.0),
    (7.55,-11.9),(7.84,-9.7),(8.18,-8.54),(8.12,-6.0),(8.4,-6.6),(8.69,-5.63),(8.89,-6.4),(9.13,-8.93),
    (9.07,-4.66),(9.3,-5.55),(9.59,-3.3),(9.97,-4.93),(9.17,-3.69),(9.27,-4.27),(8.79,-4.27),(8.5,-4.46),
    (8.2,-4.27),(7.74,-5.55),(8.02,-6.4),(9.13,-1.16),(8.94,-2.14),(9.13,-2.33),(9.36,-2.52),(9.36,-2.91),
    (8.79,-1.55),(8.45,-.97),(8.6,-.58),(8.94,-.78),(8.12,-3.49),(7.64,-2.72),(2.0,-7.18),(1.95,-6.33),
]
uw_band = [
    (-8.6,.4),(-8.4,-.8),(-8.2,1.5),(-8.0,-1.9),(-7.85,.9),(-7.7,2.6),(-7.55,-.3),(-7.4,-2.8),(-7.3,1.8),
    (-7.15,3.4),(-7.0,-1.4),(-6.9,.2),(-6.8,-3.6),(-6.7,2.7),(-6.6,-.9),(-6.5,1.2),(-6.4,-2.5),(-6.3,3.0),
    (-6.2,-4.2),(-6.1,2.2),(-6.0,-3.0),(-5.9,3.6),(-5.8,-2.6),(-5.7,2.8),(-5.6,-3.8),(-5.5,3.2),(-5.4,-2.9),
    (-5.3,4.1),(-5.2,-3.3),(-5.1,2.9),(-5.0,-4.5),(-4.9,3.4),(-4.8,-3.1),(-4.7,2.8),(-4.6,-3.7),(-4.5,4.0),
    (-4.4,-2.9),(-4.3,3.1),(-4.2,-4.1),(-4.1,2.9),(-4.0,-3.2),(-3.9,3.6),(-3.8,-2.9),(-3.7,4.4),(-3.6,-3.5),
    (-3.5,2.9),(-3.4,-4.6),(-3.3,3.3),(-3.2,-3.0),(-3.1,3.8),(-3.0,-3.4),(-2.9,2.9),(-2.8,-2.9),(-2.7,3.4),
    (-2.6,-3.9),(-2.5,2.8),(-2.4,-3.1),(-2.3,3.0),(-2.2,-2.8),(-2.1,2.7),(-2.0,-3.3),(-1.9,2.5),(-1.8,-2.6),
    (-1.7,2.3),(-1.6,-2.4),(-1.5,2.0),(-1.4,-2.2),(-1.3,1.8),(-1.2,-1.9),(-1.1,1.5),(-.9,-1.4),(-.8,1.2),
    (-.7,-1.1),(-8.9,-1.6),(-8.7,2.2),(-8.3,-2.9),(-8.1,3.3),(-7.9,-3.9),(-7.6,1.0),(-7.2,-.6),(-6.95,-5.1),
    (-6.55,4.2),(-6.25,-1.7),(-5.95,-5.0),(-5.65,4.8),(-5.35,-4.6),(-5.05,4.9),(-4.75,-5.2),(-4.45,4.6),
    (-4.15,-4.9),(-3.85,5.1),(-3.55,-4.2),(-3.25,4.5),(-2.95,-4.4),(-2.65,4.0),(-2.35,-4.8),(-2.05,3.6),
    (-7.5,3.9),(-7.1,-4.4),(-6.75,.4),(-8.0,.1),(-8.5,-.2),
    (-5.9,2.9),(-5.5,3.1),(-5.1,2.8),(-4.7,3.2),(-4.3,2.9),(-3.9,3.1),(-3.5,2.8),(-3.1,3.0),(-2.7,2.8),
    (-2.3,2.6),(-5.8,-2.9),(-5.4,-3.1),(-5.0,-2.8),(-4.6,-3.2),(-4.2,-2.9),(-3.8,-3.1),(-3.4,-2.8),(-3.0,-3.0),
    (-2.6,-2.8),(-2.2,-2.6),
    (-7.1,.3),(-6.9,-.6),(-6.7,.9),(-6.5,-1.2),(-6.45,1.5),(-6.6,-.1),(-6.85,1.6),(-7.0,-1.7),(-7.3,.9),
    (1.2,2.4),(1.4,-2.3),(1.6,3.0),(1.8,-3.1),(2.0,3.4),(2.2,-2.8),(2.4,3.8),(2.6,-3.4),(2.8,3.1),(3.0,-4.0),
    (3.2,3.6),(3.4,-3.0),(3.6,4.2),(3.8,-3.7),(4.0,3.2),(4.2,-4.4),(4.4,3.8),(4.6,-3.2),(4.8,4.5),(5.0,-3.8),
    (5.2,3.4),(5.4,-4.2),(5.6,3.9),(5.8,-3.1),(6.0,3.3),(6.2,-4.6),(6.4,2.9),(6.6,-3.4),(6.8,1.8),(7.0,-2.6),
    (7.2,2.4),(7.4,-1.5),(7.6,1.2),(7.8,-2.2),(8.0,.6),(8.2,-1.0),(8.4,1.5),(8.6,-.3),(6.5,.8),(6.7,-.7),
    (6.9,.3),(7.1,-.2),(7.3,.9),(7.5,-.9),(7.7,.4),(7.9,-.5),(8.1,1.8),(8.3,-1.8),(6.4,-1.6),(6.6,1.5),
    (6.8,-1.9),(7.0,2.2),(7.2,-2.9),(7.4,2.7),(7.6,-3.2),(7.8,3.1),(5.9,-2.9),(6.1,2.6),(6.3,-2.2),(5.3,2.9),
    (4.5,-2.8),(3.9,2.9),(3.3,-2.8),(2.7,2.8),(2.1,-2.7),(1.7,2.4),(2.3,4.4),(3.5,-4.8),(4.1,4.8),(5.7,-5.0),
    (6.5,4.2),(4.9,-4.9),(1.0,-1.8),(.8,1.4),(2.9,-3.5),(5.1,3.8),(6.9,-4.0),(3.1,4.0),(4.3,3.5),(7.5,4.0),
    (8.5,2.6),(8.8,-1.3),(6.0,-4.0),
    (2.4,2.9),(2.8,3.1),(3.2,2.8),(3.6,3.2),(4.0,2.9),(4.4,3.1),(4.8,2.8),(5.2,3.0),(5.6,2.8),(6.0,2.6),
    (2.5,-2.9),(2.9,-3.1),(3.3,-2.8),(3.7,-3.2),(4.1,-2.9),(4.5,-3.1),(4.9,-2.8),(5.3,-3.0),(5.7,-2.8),
    (6.1,-2.6),
    (6.4,.4),(6.6,-.5),(6.8,1.0),(7.0,-1.1),(7.2,.6),(7.4,-.3),(6.5,1.6),(6.7,-1.7),(6.45,-1.2),(6.9,1.9),
]
uw_core = [
    (-6.2,.1),(-5.92,-.2),(-5.64,.2),(-5.36,-.1),(-5.08,.15),(-4.8,-.2),(-4.52,.1),(-4.24,-.15),(-3.96,.2),
    (-3.68,-.05),(-3.4,.15),(-3.12,-.2),(-2.84,.1),(-2.56,-.15),(-2.28,.2),(-2.0,-.05),(-1.72,.1),(-1.44,-.15),
    (-1.16,.1),(-.88,-.1),(-.6,.05),(-.32,-.05),(-.1,0),
    (-6.1,.55),(-5.82,.4),(-5.54,.6),(-5.26,.45),(-4.98,.65),(-4.7,.4),(-4.42,.55),(-4.14,.45),(-3.86,.6),
    (-3.58,.4),(-3.3,.65),(-3.02,.5),(-2.74,.55),(-2.46,.4),(-2.18,.6),(-1.9,.45),(-1.62,.55),(-1.34,.4),
    (-1.06,.5),(-.78,.4),(-.5,.35),(-.25,.2),
    (-6.15,-.45),(-5.87,-.6),(-5.59,-.4),(-5.31,-.55),(-5.03,-.45),(-4.75,-.65),(-4.47,-.4),(-4.19,-.6),
    (-3.91,-.5),(-3.63,-.55),(-3.35,-.4),(-3.07,-.65),(-2.79,-.5),(-2.51,-.6),(-2.23,-.45),(-1.95,-.55),
    (-1.67,-.4),(-1.39,-.6),(-1.11,-.45),(-.83,-.5),(-.55,-.35),(-.28,-.2),
    (-5.95,1.05),(-5.67,.9),(-5.39,1.1),(-5.11,.95),(-4.83,1.15),(-4.55,.9),(-4.27,1.05),(-3.99,.95),
    (-3.71,1.1),(-3.43,.9),(-3.15,1.15),(-2.87,1.0),(-2.59,1.05),(-2.31,.9),(-2.03,1.1),(-1.75,.95),(-1.47,1.0),
    (-1.19,.85),(-.91,.8),(-.63,.65),
    (-6.0,-.95),(-5.72,-1.1),(-5.44,-.9),(-5.16,-1.05),(-4.88,-.95),(-4.6,-1.15),(-4.32,-.9),(-4.04,-1.1),
    (-3.76,-1.0),(-3.48,-1.05),(-3.2,-.9),(-2.92,-1.15),(-2.64,-1.0),(-2.36,-1.1),(-2.08,-.95),(-1.8,-1.05),
    (-1.52,-.9),(-1.24,-1.0),(-.96,-.85),(-.68,-.7),
    (-5.8,1.55),(-5.52,1.4),(-5.24,1.6),(-4.96,1.45),(-4.68,1.65),(-4.4,1.4),(-4.12,1.55),(-3.84,1.45),
    (-3.56,1.6),(-3.28,1.4),(-3.0,1.65),(-2.72,1.5),(-2.44,1.55),(-2.16,1.4),(-1.88,1.5),(-1.6,1.35),
    (-1.32,1.3),(-1.04,1.15),
    (-5.85,-1.45),(-5.57,-1.6),(-5.29,-1.4),(-5.01,-1.55),(-4.73,-1.45),(-4.45,-1.65),(-4.17,-1.4),(-3.89,-1.6),
    (-3.61,-1.5),(-3.33,-1.55),(-3.05,-1.4),(-2.77,-1.65),(-2.49,-1.5),(-2.21,-1.6),(-1.93,-1.45),(-1.65,-1.5),
    (-1.37,-1.35),(-1.09,-1.2),
    (-5.5,2.05),(-5.22,1.9),(-4.94,2.1),(-4.66,1.95),(-4.38,2.15),(-4.1,1.9),(-3.82,2.05),(-3.54,1.95),
    (-3.26,2.1),(-2.98,1.9),(-2.7,2.05),(-2.42,1.95),(-2.14,2.0),(-1.86,1.85),(-1.58,1.75),
    (-5.55,-1.95),(-5.27,-2.1),(-4.99,-1.9),(-4.71,-2.05),(-4.43,-1.95),(-4.15,-2.15),(-3.87,-1.9),(-3.59,-2.1),
    (-3.31,-2.0),(-3.03,-2.05),(-2.75,-1.9),(-2.47,-2.1),(-2.19,-1.95),(-1.91,-2.0),(-1.63,-1.8),
    (-5.1,2.55),(-4.6,2.45),(-4.1,2.6),(-3.6,2.4),(-3.1,2.55),(-2.6,2.45),(-2.1,2.35),
    (-5.15,-2.45),(-4.65,-2.6),(-4.15,-2.4),(-3.65,-2.55),(-3.15,-2.45),(-2.65,-2.6),(-2.15,-2.35),
    (.1,0),(.35,.05),(.62,-.1),(.9,.15),(1.18,-.05),(1.46,.2),(1.74,-.15),(2.02,.1),(2.3,-.2),(2.58,.15),
    (2.86,-.05),(3.14,.2),(3.42,-.15),(3.7,.1),(3.98,-.2),(4.26,.15),(4.54,-.05),(4.82,.2),(5.1,-.15),(5.38,.1),
    (5.66,-.2),(5.94,.15),(6.22,-.05),
    (.25,.2),(.5,.35),(.78,.45),(1.06,.6),(1.34,.4),(1.62,.55),(1.9,.45),(2.18,.65),(2.46,.4),(2.74,.6),
    (3.02,.45),(3.3,.55),(3.58,.4),(3.86,.65),(4.14,.5),(4.42,.55),(4.7,.4),(4.98,.6),(5.26,.45),(5.54,.55),
    (5.82,.4),(6.1,.5),
    (.28,-.2),(.55,-.35),(.82,-.5),(1.1,-.6),(1.38,-.4),(1.66,-.55),(1.94,-.45),(2.22,-.65),(2.5,-.4),(2.78,-.6),
    (3.06,-.45),(3.34,-.55),(3.62,-.4),(3.9,-.65),(4.18,-.5),(4.46,-.55),(4.74,-.4),(5.02,-.6),(5.3,-.45),
    (5.58,-.55),(5.86,-.4),(6.14,-.5),
    (.65,.8),(.92,.95),(1.2,1.1),(1.48,.9),(1.76,1.05),(2.04,.95),(2.32,1.15),(2.6,.9),(2.88,1.1),(3.16,1.0),
    (3.44,1.05),(3.72,.9),(4.0,1.15),(4.28,1.0),(4.56,1.05),(4.84,.9),(5.12,1.1),(5.4,.95),(5.68,1.05),(5.96,.9),
    (.68,-.8),(.96,-.95),(1.24,-1.1),(1.52,-.9),(1.8,-1.05),(2.08,-.95),(2.36,-1.15),(2.64,-.9),(2.92,-1.1),
    (3.2,-1.0),(3.48,-1.05),(3.76,-.9),(4.04,-1.15),(4.32,-1.0),(4.6,-1.05),(4.88,-.9),(5.16,-1.1),(5.44,-.95),
    (5.72,-1.05),(6.0,-.9),
    (1.05,1.3),(1.33,1.45),(1.61,1.6),(1.89,1.4),(2.17,1.55),(2.45,1.45),(2.73,1.65),(3.01,1.4),(3.29,1.6),
    (3.57,1.5),(3.85,1.55),(4.13,1.4),(4.41,1.65),(4.69,1.5),(4.97,1.55),(5.25,1.4),(5.53,1.6),(5.81,1.45),
    (1.08,-1.3),(1.36,-1.45),(1.64,-1.6),(1.92,-1.4),(2.2,-1.55),(2.48,-1.45),(2.76,-1.65),(3.04,-1.4),
    (3.32,-1.6),(3.6,-1.5),(3.88,-1.55),(4.16,-1.4),(4.44,-1.65),(4.72,-1.5),(5.0,-1.55),(5.28,-1.4),(5.56,-1.6),
    (5.84,-1.45),
    (1.5,1.85),(1.78,2.0),(2.06,2.15),(2.34,1.9),(2.62,2.05),(2.9,1.95),(3.18,2.15),(3.46,1.9),(3.74,2.1),
    (4.02,2.0),(4.3,2.05),(4.58,1.9),(4.86,2.1),(5.14,1.95),(5.42,2.0),(5.7,1.85),
    (1.55,-1.85),(1.83,-2.0),(2.11,-2.15),(2.39,-1.9),(2.67,-2.05),(2.95,-1.95),(3.23,-2.15),(3.51,-1.9),
    (3.79,-2.1),(4.07,-2.0),(4.35,-2.05),(4.63,-1.9),(4.91,-2.1),(5.19,-1.95),(5.47,-2.0),
    (2.0,2.45),(2.5,2.6),(3.0,2.5),(3.5,2.65),(4.0,2.45),(4.5,2.55),(5.0,2.4),(5.5,2.5),
    (2.05,-2.45),(2.55,-2.6),(3.05,-2.5),(3.55,-2.65),(4.05,-2.45),(4.55,-2.55),(5.05,-2.4),
]

# axis ticks
tb_xticks = [-0.8, -0.6, -0.4, -0.2, 0.0, 0.2, 0.4, 0.6, 0.8]
tb_yticks = [-4, -2, 0, 2, 4]
tv_xticks = [-4, -3, -2, -1, 0, 1, 2, 3, 4]
tv_yticks = [-20, -15, -10, -5, 0, 5, 10, 15, 20]
uw_xticks = [-15, -10, -5, 0, 5, 10, 15]
uw_yticks = [-15, -10, -5, 0, 5, 10, 15]

panels = [
    dict(scatter=tb_sparse + tb_band, dense=tb_core, xr=[-0.8, 0.8], yr=[-5, 5], xt=tb_xticks, yt=tb_yticks,
         xfmt=".1f", xlabel="Innovation Tb (K)", tag="NOAA-18 AMSU-A Ch.7",
         box=(122, 645, 43, 298), nrl_x=117, tag_x=353, title_y=18.5),
    dict(scatter=tv_sparse + tv_band, dense=tv_core, xr=[-4, 4], yr=[-20, 20], xt=tv_xticks, yt=tv_yticks,
         xfmt="d", xlabel="Innovation Tv (K)", tag="Raob-T 700-300",
         box=(122, 645, 427, 684), nrl_x=163, tag_x=397, title_y=406),
    dict(scatter=uw_sparse + uw_band, dense=uw_core, xr=[-15, 15], yr=[-15, 15], xt=uw_xticks, yt=uw_yticks,
         xfmt="d", xlabel="Innovation u-wind (m/s)", tag="Satwind-u 700-300",
         box=(122, 645, 811, 1069), nrl_x=143, tag_x=383, title_y=790),
]

YLABEL = ("Obs Impact (<span style=\"font-family:Liberation Serif\">10<sup>\u22124</sup></span>"
          "J/kg)")

DOT = dict(color="#3a3a3a", line=dict(color="black", width=0.6))

fig = go.Figure()
layout = dict(
    width=FIG_W, height=FIG_H, autosize=False,
    margin=dict(l=0, r=0, t=0, b=0),
    paper_bgcolor="white", plot_bgcolor="white",
    showlegend=False, font=dict(family=FONT, size=26, color="black"),
)
annotations, shapes = [], []

for i, p in enumerate(panels, start=1):
    sx = "" if i == 1 else str(i)
    left, right, top, bottom = p["box"]
    # the crowded centre of each bow-tie is drawn with slightly larger dots so it reads as solid
    for pts, size in ((p["dense"], 6), (p["scatter"], 4)):
        fig.add_trace(go.Scatter(
            x=[q[0] for q in pts], y=[q[1] for q in pts], mode="markers",
            xaxis="x" + sx, yaxis="y" + sx, marker=dict(DOT, size=size), hoverinfo="skip",
        ))
    axis_common = dict(
        showline=True, linewidth=2, linecolor="black", mirror="ticks",
        ticks="inside", ticklen=9, tickwidth=1, tickcolor="black",
        showgrid=False, zeroline=False, tickangle=0, tickmode="array",
        tickfont=dict(family=FONT, size=26, color="black"),
    )
    layout["xaxis" + sx] = dict(
        axis_common, domain=[left / FIG_W, right / FIG_W], range=p["xr"],
        tickvals=p["xt"], tickformat=p["xfmt"], anchor="y" + sx, ticklabelstandoff=1,
    )
    layout["yaxis" + sx] = dict(
        axis_common, domain=[1 - bottom / FIG_H, 1 - top / FIG_H], range=p["yr"],
        tickvals=p["yt"], anchor="x" + sx, ticklabelstandoff=3,
    )
    dash = dict(color="#222222", width=1.2, dash="15px,15px")
    shapes.append(dict(type="line", xref="x" + sx, yref="y" + sx + " domain",
                       x0=0, x1=0, y0=0, y1=1, line=dash, layer="below"))
    shapes.append(dict(type="line", xref="x" + sx + " domain", yref="y" + sx,
                       x0=0, x1=1, y0=0, y1=0, line=dash, layer="below"))
    # panel headings
    annotations.append(dict(text="NRL NOGAPS", xref="paper", yref="paper",
                            x=p["nrl_x"] / FIG_W, y=1 - p["title_y"] / FIG_H,
                            xanchor="left", yanchor="middle", showarrow=False))
    annotations.append(dict(text=p["tag"], xref="paper", yref="paper",
                            x=p["tag_x"] / FIG_W, y=1 - p["title_y"] / FIG_H,
                            xanchor="left", yanchor="middle", showarrow=False))
    # axis titles
    annotations.append(dict(text=p["xlabel"], xref="paper", yref="paper",
                            x=(left + right) / 2 / FIG_W, y=1 - (bottom + 60) / FIG_H,
                            xanchor="center", yanchor="middle", showarrow=False))
    annotations.append(dict(text=YLABEL, xref="paper", yref="paper", textangle=-90,
                            x=43 / FIG_W, y=1 - (top + bottom) / 2 / FIG_H,
                            xanchor="center", yanchor="middle", showarrow=False))

layout["annotations"] = annotations
layout["shapes"] = shapes
fig.update_layout(**layout)
fig.write_html("out.html")
